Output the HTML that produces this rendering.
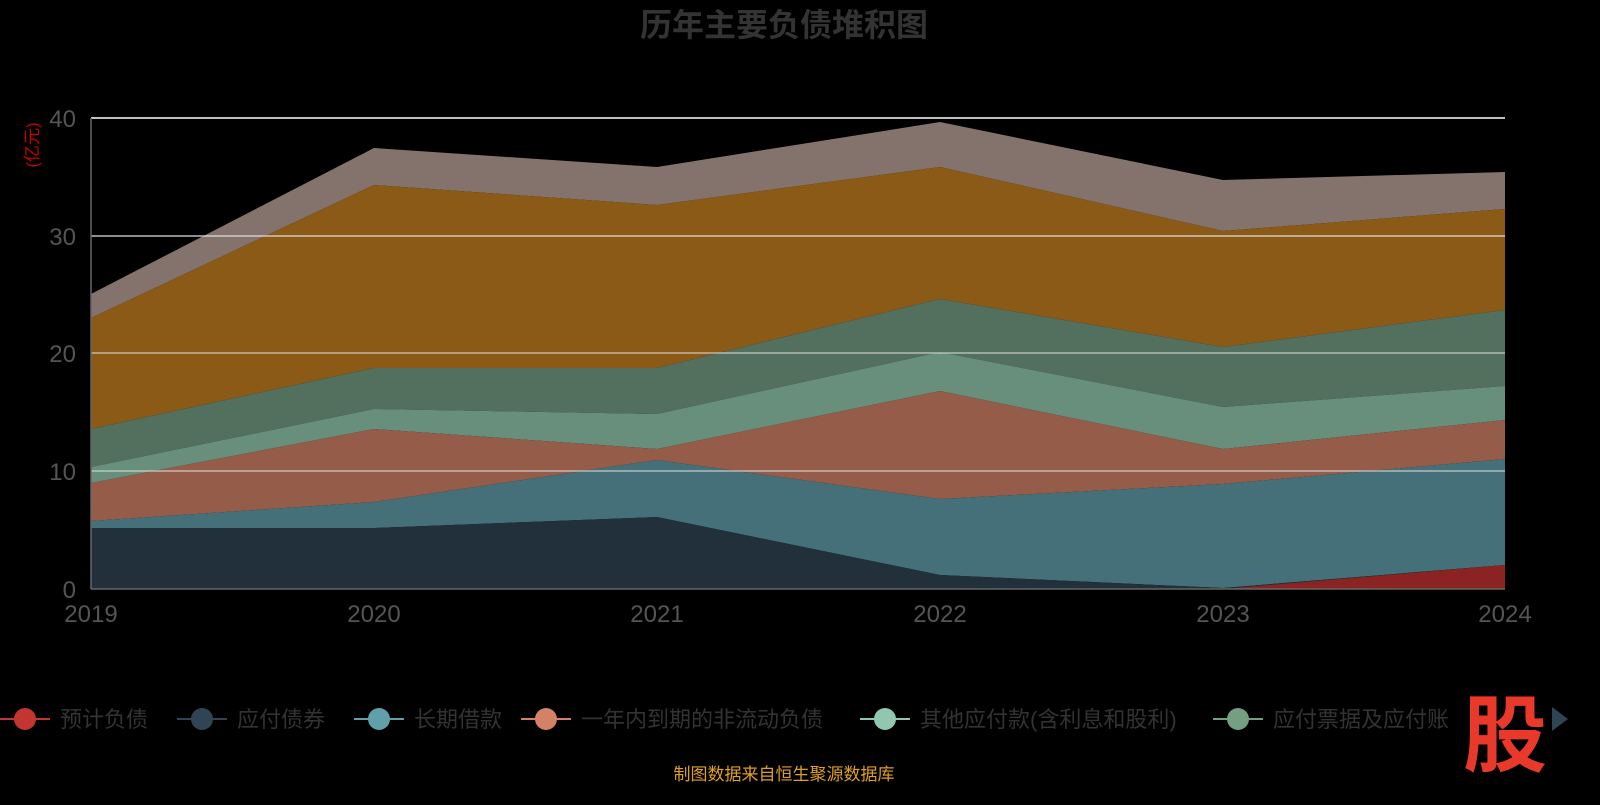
<!DOCTYPE html>
<html><head><meta charset="utf-8"><style>
body{margin:0;background:#000;width:1600px;height:800px;overflow:hidden;font-family:"Liberation Sans","Noto Sans CJK SC",sans-serif}
</style></head><body>
<svg width="1600" height="800" xmlns="http://www.w3.org/2000/svg" style="font-family:'Liberation Sans','Noto Sans CJK SC',sans-serif">
<rect width="1600" height="800" fill="#000"/>
<text x="784" y="36" text-anchor="middle" font-size="32" font-weight="bold" fill="#333">历年主要负债堆积图</text>
<text x="38" y="145" font-size="17" fill="#c00" transform="rotate(-90 38 145)" text-anchor="middle">(亿元)</text>
<g>
<polygon fill="#84736d" points="91,294 374,148 657,167 940,122 1223,180 1505,172 1505,209 1223,231 940,167 657,205 374,185 91,318"/>
<polygon fill="#8b5a17" points="91,318 374,185 657,205 940,167 1223,231 1505,209 1505,310 1223,347 940,299 657,368 374,368 91,429"/>
<polygon fill="#53705e" points="91,429 374,368 657,368 940,299 1223,347 1505,310 1505,386 1223,407 940,352 657,414 374,409 91,467"/>
<polygon fill="#678f7c" points="91,467 374,409 657,414 940,352 1223,407 1505,386 1505,420 1223,449 940,391 657,449 374,429 91,483"/>
<polygon fill="#955c4a" points="91,483 374,429 657,449 940,391 1223,449 1505,420 1505,459 1223,484 940,499 657,460 374,502 91,521"/>
<polygon fill="#45707a" points="91,521 374,502 657,460 940,499 1223,484 1505,459 1505,565 1223,588 940,575 657,517 374,528 91,528"/>
<polygon fill="#21303a" points="91,528 374,528 657,517 940,575 1223,588 1505,565 1505,589 91,589"/>
<polygon fill="#8b2323" points="1223,589 1505,565 1505,589"/>
</g>
<g stroke-width="1.5">
<line x1="91" y1="118" x2="1505" y2="118" stroke="#fff"/>
<line x1="91" y1="236" x2="1505" y2="236" stroke="#ddd" opacity="0.85"/>
<line x1="91" y1="353" x2="1505" y2="353" stroke="#ddd" opacity="0.7"/>
<line x1="91" y1="471" x2="1505" y2="471" stroke="#ddd" opacity="0.7"/>
<line x1="91" y1="589" x2="1505" y2="589" stroke="#666"/>
<line x1="91" y1="118" x2="91" y2="589" stroke="#666"/>
</g>
<g font-size="24" fill="#555" text-anchor="end">
<text x="76" y="127">40</text><text x="76" y="245">30</text><text x="76" y="362">20</text><text x="76" y="480">10</text><text x="76" y="598">0</text>
</g>
<g font-size="24" fill="#555" text-anchor="middle">
<text x="91" y="622">2019</text><text x="374" y="622">2020</text><text x="657" y="622">2021</text><text x="940" y="622">2022</text><text x="1223" y="622">2023</text><text x="1505" y="622">2024</text>
</g>
<g font-size="22" fill="#333">
<line x1="0" y1="719" x2="50" y2="719" stroke="#c23531" stroke-width="2"/><circle cx="25" cy="719" r="11" fill="#c23531"/><text x="60" y="727">预计负债</text>
<line x1="177" y1="719" x2="227" y2="719" stroke="#2f4554" stroke-width="2"/><circle cx="202" cy="719" r="11" fill="#2f4554"/><text x="237" y="727">应付债券</text>
<line x1="354" y1="719" x2="404" y2="719" stroke="#61a0a8" stroke-width="2"/><circle cx="379" cy="719" r="11" fill="#61a0a8"/><text x="414" y="727">长期借款</text>
<line x1="521" y1="719" x2="571" y2="719" stroke="#d48265" stroke-width="2"/><circle cx="546" cy="719" r="11" fill="#d48265"/><text x="581" y="727">一年内到期的非流动负债</text>
<line x1="860" y1="719" x2="910" y2="719" stroke="#91c7ae" stroke-width="2"/><circle cx="885" cy="719" r="11" fill="#91c7ae"/><text x="920" y="727">其他应付款(含利息和股利)</text>
<line x1="1213" y1="719" x2="1263" y2="719" stroke="#749f83" stroke-width="2"/><circle cx="1238" cy="719" r="11" fill="#749f83"/><text x="1273" y="727">应付票据及应付账</text>
</g>
<rect x="1455" y="680" width="145" height="90" fill="#000"/>
<text x="1505" y="765" font-size="84" font-weight="bold" fill="#e8392b" text-anchor="middle">股</text>
<polygon points="1552,707 1568,719 1552,731" fill="#2f4554"/>
<text x="784" y="780" font-size="17" fill="#e0a020" text-anchor="middle">制图数据来自恒生聚源数据库</text>
</svg>
</body></html>
